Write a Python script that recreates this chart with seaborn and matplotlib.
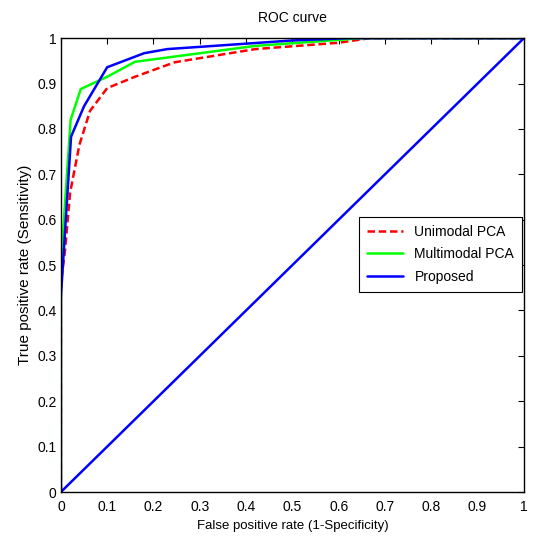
import matplotlib
matplotlib.use("Agg")
import matplotlib.pyplot as plt
import seaborn as sns
import pandas as pd

sns.set_style("white")
plt.rcParams['font.family'] = ['Liberation Sans', 'DejaVu Sans']
plt.rcParams['text.color'] = 'black'
plt.rcParams['axes.labelcolor'] = 'black'
plt.rcParams['xtick.color'] = 'black'
plt.rcParams['ytick.color'] = 'black'

# Data
uni_fpr = [0.0, 0.0, 0.009, 0.02, 0.04, 0.063, 0.10, 0.16, 0.246, 0.42, 0.60, 0.667, 1.0]
uni_tpr = [0.0, 0.46, 0.533, 0.66, 0.765, 0.84, 0.89, 0.915, 0.947, 0.976, 0.99, 1.0, 1.0]
multi_fpr = [0.0, 0.0, 0.021, 0.043, 0.10, 0.16, 0.42, 0.65, 1.0]
multi_tpr = [0.0, 0.50, 0.82, 0.888, 0.915, 0.948, 0.983, 1.0, 1.0]
prop_fpr = [0.0, 0.0, 0.022, 0.05, 0.10, 0.18, 0.23, 0.50, 0.62, 1.0]
prop_tpr = [0.0, 0.43, 0.783, 0.85, 0.936, 0.967, 0.976, 0.995, 1.0, 1.0]
diag_x = [0.0, 1.0]
diag_y = [0.0, 1.0]

names = ["Unimodal PCA", "Multimodal PCA", "Proposed"]
ticks = [0, 0.1, 0.2, 0.3, 0.4, 0.5, 0.6, 0.7, 0.8, 0.9, 1]
tick_labels = ["0", "0.1", "0.2", "0.3", "0.4", "0.5", "0.6", "0.7", "0.8", "0.9", "1"]

df = pd.concat([
    pd.DataFrame({"fpr": uni_fpr, "tpr": uni_tpr, "method": names[0]}),
    pd.DataFrame({"fpr": multi_fpr, "tpr": multi_tpr, "method": names[1]}),
    pd.DataFrame({"fpr": prop_fpr, "tpr": prop_tpr, "method": names[2]}),
], ignore_index=True)

fig = plt.figure(figsize=(5.34, 5.38), dpi=100)
ax = fig.add_axes([0.114, 0.0855, 0.867, 0.8435])

palette = {names[0]: "#ff0000", names[1]: "#00ff00", names[2]: "#0000ff"}
dashes = {names[0]: (3, 1.5), names[1]: "", names[2]: ""}
sns.lineplot(data=df, x="fpr", y="tpr", hue="method", style="method",
             palette=palette, dashes=dashes, sort=False, estimator=None,
             linewidth=1.8, ax=ax)
sns.lineplot(x=diag_x, y=diag_y, color="#0000ff", linewidth=1.8, ax=ax,
             legend=False, sort=False, estimator=None)

ax.set_xlim(0, 1)
ax.set_ylim(0, 1)
ax.set_xticks(ticks)
ax.set_xticklabels(tick_labels)
ax.set_yticks(ticks)
ax.set_yticklabels(tick_labels)
ax.tick_params(direction="in", length=4, width=0.8, top=True, right=True,
               labelsize=10, color="black")
ax.tick_params(axis="x", pad=6)
ax.tick_params(axis="y", pad=3)
for s in ax.spines.values():
    s.set_color("black")
    s.set_linewidth(1.0)

ax.set_xlabel("False positive rate (1-Specificity)", fontsize=9.5, labelpad=4)
ax.set_ylabel("True positive rate (Sensitivity)", fontsize=11, labelpad=4)
ax.set_title("ROC curve", fontsize=10, pad=12)

leg = ax.legend(loc="upper right", bbox_to_anchor=(0.997, 0.607),
                borderaxespad=0, fancybox=False, edgecolor="black",
                framealpha=1, fontsize=10, handlelength=2.6,
                borderpad=0.6, labelspacing=0.6, title=None, shadow=False)
leg.get_frame().set_linewidth(0.8)

fig.savefig("out.png", dpi=100)
